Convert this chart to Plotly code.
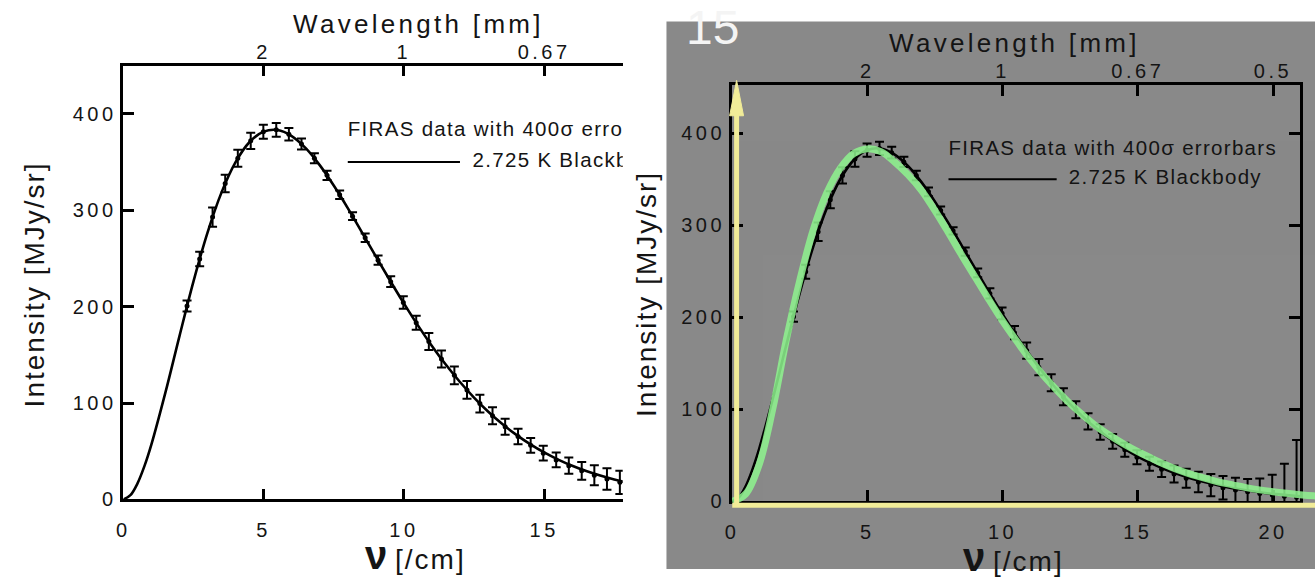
import plotly.graph_objects as go

W, H = 1315, 584

# ---------------- data ----------------
nu_data = [2.27, 2.72, 3.18, 3.63, 4.08, 4.54, 4.99, 5.45, 5.90, 6.35, 6.81, 7.26, 7.71,
           8.17, 8.62, 9.08, 9.53, 9.98, 10.44, 10.89, 11.34, 11.80, 12.25, 12.71, 13.16,
           13.61, 14.07, 14.52, 14.97, 15.43, 15.88, 16.34, 16.79, 17.24, 17.70, 18.15,
           18.61, 19.06, 19.51, 19.97, 20.42, 20.87, 21.33]
I_data = [200.7, 249.5, 293.0, 327.8, 354.1, 372.1, 381.5, 383.5, 378.9, 368.8, 354.1,
          336.3, 316.1, 293.9, 271.4, 248.2, 225.9, 204.3, 183.3, 163.8, 145.8, 128.8,
          113.6, 99.5, 86.9, 75.4, 65.3, 56.1, 48.0, 41.0, 35.0, 29.7, 25.1, 21.1, 17.7,
          14.9, 12.4, 10.4, 8.5, 7.0, 5.7, 4.6, 3.7]
err_data = [5.6, 7.6, 10.0, 9.2, 8.8, 8.4, 7.2, 7.2, 6.4, 5.6, 5.2, 4.8, 4.4, 4.0, 4.4,
            4.8, 5.6, 6.4, 7.2, 8.8, 8.8, 9.2, 9.2, 9.2, 8.8, 8.4, 8.0, 7.6, 7.6, 7.6,
            8.4, 9.2, 10.4, 11.2, 12.0, 12.8, 13.2, 14.0, 16.4, 22.0, 35.2, 62.0, 112.8]

nu_curve = [0, 0.25, 0.5, 0.75, 1.0, 1.5, 2.0, 2.5, 3.0, 3.5, 4.0, 4.5, 5.0, 5.5, 6.0,
            6.5, 7.0, 7.5, 8.0, 8.5, 9.0, 9.5, 10.0, 10.5, 11.0, 11.5, 12.0, 12.5, 13.0,
            13.5, 14.0, 14.5, 15.0, 15.5, 16.0, 16.5, 17.0, 17.5, 18.0, 18.5, 19.0, 19.5,
            20.0, 20.5, 21.0, 21.5, 22.0]
I_curve = [0, 4.4, 16.4, 34.5, 57.1, 111.0, 169.5, 226.3, 276.9, 318.6, 350.0, 370.9,
           381.6, 383.3, 377.0, 364.5, 346.9, 325.7, 302.3, 277.4, 252.2, 227.4, 203.4,
           180.6, 159.3, 139.7, 121.8, 105.7, 91.3, 78.5, 67.2, 57.3, 48.7, 41.3, 34.9,
           29.4, 24.7, 20.7, 17.3, 14.4, 12.0, 9.9, 8.2, 6.8, 5.6, 4.6, 3.8]

nu_green = [0, 0.5, 1.0, 1.5, 2.0, 2.5, 3.0, 3.5, 4.0, 4.5, 5.0, 5.5, 6.0, 6.5, 7.0, 7.5,
            8.0, 8.5, 9.0, 9.5, 10.0, 10.5, 11.0, 11.5, 12.0, 12.5, 13.0, 13.5, 14.0, 14.5,
            15.0, 15.5, 16.0, 16.5, 17.0, 17.5, 18.0, 18.5, 19.0, 19.5, 20.0, 20.5, 21.0,
            21.5, 22.0]
I_green = [0, 8, 40, 100, 175, 240, 295, 335, 362, 378, 383, 380, 369, 355, 338, 316,
           292, 267, 243, 219, 196, 175, 155, 137, 121, 106, 93, 81, 71, 62, 54, 47, 40,
           34, 29, 25, 21, 18, 15, 12.5, 10.5, 8.8, 7.3, 6.0, 5.0]

top_tick_nu = [5, 10, 15, 20]
top_tick_labels = ["2", "1", "0.67", "0.5"]
bottom_ticks = [0, 5, 10, 15, 20]
bottom_tick_labels = ["0", "5", "10", "15", "20"]
y_ticks = [0, 100, 200, 300, 400]
y_tick_labels = ["0", "100", "200", "300", "400"]

legend_data_text = "FIRAS data with 400σ errorbars"
legend_curve_text = "2.725 K Blackbody"

# ---------------- layout geometry (pixels) ----------------
def fx(p):
    return p / W

def fy(p):
    return 1 - p / H

def spaced(t, s):
    return f"<span style='letter-spacing:{s}px'>{t}</span>"

FONT = "Liberation Sans, Arial, sans-serif"
INK = "#141414"
TICKFONT = dict(family=FONT, size=20, color=INK)
YELLOW = "#f1ec98"

# left panel
L_X0, L_X1, L_YT, L_YB = 117, 619, 67, 509
L_XR = [0, (L_X1 - L_X0) / 28.2]
L_YR = [0, 450]
# right panel
R_X0, R_X1, R_YT, R_YB = 729, 1300, 87, 511
R_XR = [0, 21]
R_YR = [0, 452]
# extended overlay for the green curve / yellow axis (same scale as right panel)
E_X1, E_YB = 1315, 524
e_xscale = (R_X1 - R_X0) / (R_XR[1] - R_XR[0])
e_yscale = (R_YB - R_YT) / (R_YR[1] - R_YR[0])
E_XR = [0, (E_X1 - R_X0) / e_xscale]
E_YR = [-(E_YB - R_YB) / e_yscale, R_YR[1]]

fig = go.Figure()

def add_panel(xa, ya, xtop):
    fig.add_trace(go.Scatter(x=nu_curve, y=I_curve, mode="lines", xaxis=xa, yaxis=ya,
                             line=dict(color="black", width=2.6, shape="spline"),
                             showlegend=False, hoverinfo="skip"))
    fig.add_trace(go.Scatter(x=nu_data, y=I_data, mode="markers", xaxis=xa, yaxis=ya,
                             marker=dict(color="black", size=5),
                             error_y=dict(type="data", array=err_data, color="black",
                                          thickness=2, width=4.5),
                             showlegend=False, hoverinfo="skip"))
    fig.add_trace(go.Scatter(x=[8.0], y=[382], mode="text", xaxis=xa, yaxis=ya,
                             text=[spaced(legend_data_text, 1.3)], textposition="middle right",
                             textfont=dict(family=FONT, size=20.5, color=INK),
                             showlegend=False, hoverinfo="skip", cliponaxis=True))
    fig.add_trace(go.Scatter(x=[8.0, 12.0], y=[350, 350], mode="lines", xaxis=xa, yaxis=ya,
                             line=dict(color="black", width=2),
                             showlegend=False, hoverinfo="skip"))
    fig.add_trace(go.Scatter(x=[12.45], y=[350], mode="text", xaxis=xa, yaxis=ya,
                             text=[spaced(legend_curve_text, 1.3)], textposition="middle right",
                             textfont=dict(family=FONT, size=20.5, color=INK),
                             showlegend=False, hoverinfo="skip", cliponaxis=True))
    # invisible trace so the top (wavelength) axis is drawn
    fig.add_trace(go.Scatter(x=nu_curve, y=I_curve, mode="lines", xaxis=xtop, yaxis=ya,
                             line=dict(width=0), opacity=0,
                             showlegend=False, hoverinfo="skip"))

add_panel("x", "y", "x2")
add_panel("x3", "y3", "x4")

# green curve on the extended overlay (runs past the right frame)
fig.add_trace(go.Scatter(x=nu_green, y=I_green, mode="lines", xaxis="x5", yaxis="y5",
                         line=dict(color="#8ff58f", width=7, shape="spline"), opacity=0.85,
                         showlegend=False, hoverinfo="skip"))

axis_common = dict(showgrid=False, zeroline=False, showline=True, linecolor="black",
                   ticks="inside", tickcolor="black", tickfont=TICKFONT, fixedrange=True,
                   ticklen=11, tickwidth=2.5)
bottom_ticktext = [spaced(t, 3.5) for t in bottom_tick_labels]
top_ticktext = [spaced(t, 3.5) for t in top_tick_labels]
y_ticktext = [spaced(t, 3.5) for t in y_tick_labels]

fig.update_layout(
    width=W, height=H,
    margin=dict(l=0, r=0, t=0, b=0),
    paper_bgcolor="white",
    plot_bgcolor="rgba(0,0,0,0)",
    showlegend=False,
    # ----- left panel -----
    xaxis=dict(domain=[fx(L_X0), fx(L_X1)], range=L_XR, anchor="y",
               tickvals=bottom_ticks, ticktext=bottom_ticktext, linewidth=2.5,
               ticklabelstandoff=11, **axis_common),
    xaxis2=dict(domain=[fx(L_X0), fx(L_X1)], range=L_XR, anchor="y", overlaying="x",
                side="top", tickvals=top_tick_nu, ticktext=top_ticktext,
                linewidth=2.5, ticklabelstandoff=-4, **axis_common),
    yaxis=dict(domain=[fy(L_YB), fy(L_YT)], range=L_YR, anchor="x",
               tickvals=y_ticks, ticktext=y_ticktext, linewidth=2.5, **axis_common),
    # ----- right panel -----
    xaxis3=dict(domain=[fx(R_X0), fx(R_X1)], range=R_XR, anchor="y3",
                tickvals=bottom_ticks, ticktext=bottom_ticktext, linewidth=3,
                ticklabelstandoff=11, **axis_common),
    xaxis4=dict(domain=[fx(R_X0), fx(R_X1)], range=R_XR, anchor="y3", overlaying="x3",
                side="top", tickvals=top_tick_nu, ticktext=top_ticktext,
                linewidth=3, ticklabelstandoff=-4, **axis_common),
    yaxis3=dict(domain=[fy(R_YB), fy(R_YT)], range=R_YR, anchor="x3", mirror="ticks",
                tickvals=y_ticks, ticktext=y_ticktext, linewidth=3, **axis_common),
    # ----- extended overlay (no visible axes) -----
    xaxis5=dict(domain=[fx(R_X0), fx(E_X1)], range=E_XR, anchor="y5", visible=False,
                fixedrange=True),
    yaxis5=dict(domain=[fy(E_YB), fy(R_YT)], range=E_YR, anchor="x5", visible=False,
                fixedrange=True),
)

# gray slide background of the right picture
fig.add_shape(type="rect", xref="paper", yref="paper", x0=fx(663), x1=1, y0=fy(580),
              y1=fy(22), fillcolor="#898989", line=dict(width=0), layer="below")

# yellow horizontal axis highlight (extends past the frame)
fig.add_shape(type="line", xref="x5", yref="y5", x0=0, x1=E_XR[1], y0=-4.2, y1=-4.2,
              line=dict(color=YELLOW, width=5), layer="above")
# yellow vertical arrow (shaft + narrow head) along the intensity axis
fig.add_shape(type="line", xref="paper", yref="paper", x0=fx(733.5), x1=fx(733.5),
              y0=fy(516), y1=fy(110), line=dict(color=YELLOW, width=5), layer="above")
fig.add_shape(type="path", xref="paper", yref="paper",
              path=(f"M {fx(726.5)} {fy(118)} L {fx(733.5)} {fy(82)} "
                    f"L {fx(740.5)} {fy(118)} Z"),
              fillcolor=YELLOW, line=dict(color=YELLOW, width=1), layer="above")

nu_title = ("<b><span style='font-size:40px'>ν</span></b> "
            + spaced("[/cm]", 2))
annotations = [
    dict(text="15", x=fx(709), y=fy(28), font=dict(family=FONT, size=48, color="#f4f4f4")),
    dict(text=spaced("Wavelength [mm]", 3.3), x=fx(414), y=fy(24),
         font=dict(family=FONT, size=26, color=INK)),
    dict(text=nu_title, x=fx(411), y=fy(566), font=dict(family=FONT, size=28, color=INK)),
    dict(text=spaced("Intensity [MJy/sr]", 2), x=fx(28), y=fy(290), textangle=-90,
         font=dict(family=FONT, size=28, color=INK)),
    dict(text=spaced("Wavelength [mm]", 3.3), x=fx(1013), y=fy(44),
         font=dict(family=FONT, size=26, color=INK)),
    dict(text=nu_title, x=fx(1012), y=fy(568), font=dict(family=FONT, size=28, color=INK)),
    dict(text=spaced("Intensity [MJy/sr]", 2), x=fx(643), y=fy(300), textangle=-90,
         font=dict(family=FONT, size=28, color=INK)),
]
for a in annotations:
    fig.add_annotation(xref="paper", yref="paper", showarrow=False,
                       xanchor="center", yanchor="middle", **a)

fig.write_html("out.html", config={"displayModeBar": False},
               post_script="document.body.style.margin='0px';document.body.style.overflow='hidden';")
